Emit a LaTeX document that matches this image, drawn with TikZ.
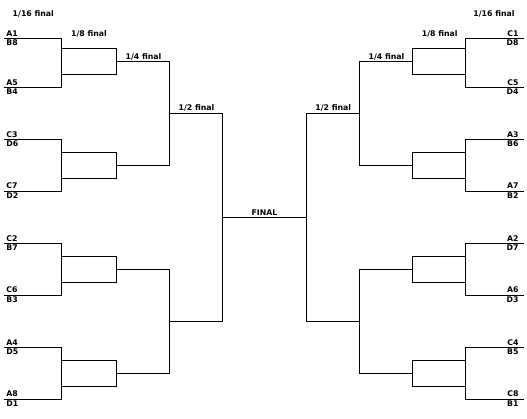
\documentclass[tikz,border=0pt]{standalone}
\usepackage{fontspec}
\setmainfont{DejaVu Sans}

\begin{document}
\begin{tikzpicture}[x=1pt, y=-1pt, line width=0.9pt,
  font=\bfseries\fontsize{7.8}{9}\selectfont,
  team/.style={inner sep=0pt},
  stage/.style={inner sep=0pt, anchor=base}]

  \useasboundingbox (0,0) rectangle (527,418);

  % Column geometry
  \def\xa{4}   \def\xb{61}   \def\xc{116.7} \def\xd{169.5} \def\xe{222.3}
  \def\ra{524} \def\rb{465.5} \def\rc{412}  \def\rd{359.3} \def\re{306.7}

  % Left half: 1/16 and 1/8 final
  \foreach \g/\t/\a/\m/\b/\e in {1/38.3/48.3/61/74/87.3, 2/139.3/152.3/165/178.3/191,
      3/243.3/256.7/269.3/282.3/295, 4/347.3/360/373.3/386/399} {
    \draw (\xa,\t) -| (\xb,\e) -- (\xa,\e);
    \draw (\xb,\a) -| (\xc,\b) -- (\xb,\b);
    \draw (\xc,\m) -- (\xd,\m) coordinate (q\g);
  }

  % Right half: 1/16 and 1/8 final
  \foreach \g/\t/\a/\m/\b/\e in {1/38.3/48.3/61/74/87.3, 2/139.3/152.3/165/178.3/191,
      3/243.3/256.7/269.3/282.3/295, 4/347.3/360/373.3/386/399} {
    \draw (\ra,\t) -| (\rb,\e) -- (\ra,\e);
    \draw (\rb,\a) -| (\rc,\b) -- (\rb,\b);
    \draw (\rc,\m) -- (\rd,\m) coordinate (Q\g);
  }

  % 1/4 final
  \draw (q1) -- (q2);
  \draw (q3) -- (q4);
  \draw (Q1) -- (Q2);
  \draw (Q3) -- (Q4);

  % 1/2 final and final
  \coordinate (s1) at (\xd,113.3);
  \coordinate (s2) at (\xd,321);
  \coordinate (S1) at (\rd,113.3);
  \coordinate (S2) at (\rd,321);
  \coordinate (f1) at (\xe,217.3);
  \coordinate (f2) at (\re,217.3);
  \draw (s1) -- (\xe,113.3) -- (\xe,321) -- (s2);
  \draw (S1) -- (\re,113.3) -- (\re,321) -- (S2);
  \draw (f1) -- (f2);

  % Teams
  \foreach \up/\dn/\y in {A1/B8/38.3, A5/B4/87.3, C3/D6/139.3, C7/D2/191,
      C2/B7/243.3, C6/B3/295, A4/D5/347.3, A8/D1/399} {
    \node[team, anchor=base west] (\up) at (6,\y-2.2) {\up};
    \node[team, anchor=base west] (\dn) at (6,\y+7.4) {\dn};
  }
  \foreach \up/\dn/\y in {C1/D8/38.3, C5/D4/87.3, A3/B6/139.3, A7/B2/191,
      A2/D7/243.3, A6/D3/295, C4/B5/347.3, C8/B1/399} {
    \node[team, anchor=base east] (\up) at (519,\y-2.2) {\up};
    \node[team, anchor=base east] (\dn) at (519,\y+7.4) {\dn};
  }

  % Stage titles
  \node[stage] (r16l) at (33.3,16.5)  {1/16 final};
  \node[stage] (r8l)  at (89,36)      {1/8 final};
  \node[stage] (r4l)  at (143.5,59)   {1/4 final};
  \node[stage] (r2l)  at (196.5,110.8) {1/2 final};
  \node[stage] (fin)  at (264.5,215.3) {FINAL};
  \node[stage] (r2r)  at (333.3,110.8) {1/2 final};
  \node[stage] (r4r)  at (386.5,59)   {1/4 final};
  \node[stage] (r8r)  at (439.7,36)   {1/8 final};
  \node[stage] (r16r) at (494,16.5)   {1/16 final};

\end{tikzpicture}
\end{document}
